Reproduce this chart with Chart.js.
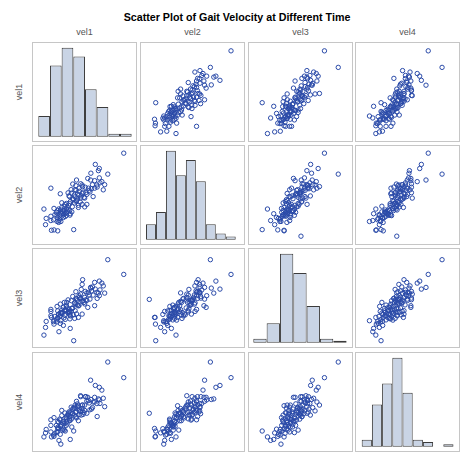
<!DOCTYPE html>
<html>
<head>
<meta charset="utf-8">
<script src="https://cdn.jsdelivr.net/npm/chart.js@4/dist/chart.umd.min.js"></script>
<style>
  html, body { margin: 0; padding: 0; background: #fff; }
  body { width: 462px; height: 456px; position: relative; overflow: hidden;
         font-family: "Liberation Sans", Arial, sans-serif; }
  #title { position: absolute; left: 0; width: 474px; top: 11px; text-align: center;
           font-weight: bold; font-size: 10.7px; color: #000; white-space: nowrap; }
  .collab { position: absolute; top: 27px; width: 105px; text-align: center;
            font-size: 9px; color: #555; }
  .rowlab { position: absolute; width: 100px; height: 12px; line-height: 12px; text-align: center;
            font-size: 9px; color: #555; transform: rotate(-90deg); }
  .panel { position: absolute; width: 105px; height: 100px; }
  .panel canvas { position: absolute; left: 0; top: 0; }
  .frame { position: absolute; left: 0; top: 0; width: 105px; height: 100px; box-sizing: border-box;
           border: 1px solid #c6c6c6; pointer-events: none; }
</style>
</head>
<body>
<div id="title">Scatter Plot of Gait Velocity at Different Time</div>
<div id="grid"></div>
<script>
// Gait velocity (cm/s) for each subject at four visits; null = not measured.
const vel1 = [
  125.3, 108.3, 90.0, 40.3, 72.0, 81.5, 68.3, 58.3, 56.3, 47.7, null,
  95.0, 99.3, 98.3, 99.3, 102.0, 105.0, 90.3, 100.0, 94.3, 103.5,
  96.7, 97.0, 87.0, 92.0, 94.3, 91.0, 87.7, 88.5, 84.3, 89.3,
  81.0, 79.5, 75.0, 92.7, 85.0, 86.0, 77.7, 82.0, 74.3, 71.0,
  81.0, 78.0, 83.0, 83.7, 74.5, 80.0, 73.3, 77.7, 76.0, 79.3,
  86.0, 69.3, 72.7, 76.0, 69.5, 79.0, 73.5, 81.0, 83.7, 75.0,
  66.0, 74.3, 71.0, 71.5, 67.7, 67.0, 77.0, 73.0, 77.0, 68.5,
  57.7, 67.7, 70.5, 64.5, 66.5, 62.7, 70.0, 59.3, 67.7, 66.0,
  62.0, 64.3, 65.0, 62.5, 68.0, 59.3, 64.0, 61.0, 62.7, 64.3,
  58.0, 60.0, 56.0, 61.5, 63.0, 59.0, 57.7, 55.0, 61.0, 51.0,
  53.5, 57.0, 57.7, 54.3, 52.0, 55.0, 56.0, 54.3, 47.7, 50.5,
  47.7, 42.7, 55.0, 51.0, 48.3, 42.0
];
const vel2 = [
  123.7, 101.3, 95.0, 64.0, 42.0, 88.0, 59.0, 50.7, 51.7, 86.3, 35.0,
  111.7, 107.3, 105.0, 97.3, 93.3, 90.0, 102.3, 92.0, 94.3, 84.5,
  89.7, 87.5, 96.7, 90.0, 86.3, 85.7, 86.3, 84.0, 87.3, 82.3,
  89.7, 91.0, 95.0, 77.3, 81.5, 79.7, 86.3, 82.0, 89.0, 90.7,
  80.7, 83.0, 76.5, 75.7, 84.0, 78.0, 84.7, 79.0, 80.0, 75.7,
  69.0, 84.7, 79.0, 74.7, 81.0, 71.5, 77.0, 69.0, 66.3, 73.0,
  81.3, 72.3, 75.0, 74.0, 77.3, 78.0, 68.0, 70.5, 65.7, 72.0,
  80.3, 69.7, 66.5, 70.0, 68.0, 69.0, 61.0, 70.7, 62.3, 64.0,
  67.0, 64.0, 62.0, 63.0, 57.5, 65.7, 60.5, 62.3, 59.0, 57.3,
  63.0, 61.0, 64.0, 58.0, 56.0, 59.5, 60.0, 62.5, 55.0, 64.7,
  60.5, 57.0, 54.0, 57.3, 58.0, 55.0, 49.7, 50.7, 56.3, 52.5,
  51.7, 54.0, 40.7, 41.7, 41.3, 47.3
];
const vel3 = [
  108.0, 122.7, 95.0, 47.3, 41.7, 102.7, 54.0, 61.7, 50.7, 73.0, 83.0,
  93.3, 101.3, 89.3, 86.7, 99.3, 89.3, 94.3, 92.5, 76.7, 96.5,
  90.0, 84.0, 75.0, 95.5, 100.0, 91.5, 90.0, 87.5, 91.0, 83.3,
  98.0, 84.3, 83.3, 87.3, 82.7, 82.0, 86.7, 81.7, 90.7, 86.0,
  68.3, 85.0, 80.0, 85.0, 78.3, 93.0, 79.5, 77.0, 77.5, 88.3,
  89.5, 71.0, 79.3, 82.3, 81.7, 83.5, 71.7, 81.0, 78.5, 68.5,
  82.5, 84.0, 74.5, 67.5, 70.5, 73.5, 76.5, 64.0, 65.0, 66.5,
  78.3, 67.5, 74.0, 80.0, 70.7, 72.7, 74.0, 70.0, 69.3, 69.5,
  80.0, 76.0, 74.5, 67.3, 63.5, 72.5, 77.3, 75.0, 71.7, 72.0,
  70.0, 69.3, 68.3, 64.5, 63.0, 69.0, 66.5, 64.0, 57.0, 62.3,
  62.5, 66.0, 59.0, 76.0, 66.0, 71.5, 68.0, 60.5, 66.7, 60.7,
  71.0, 61.0, 65.0, 58.3, 65.0, 55.0
];
const vel4 = [
  106.0, 122.7, 103.3, 42.7, 49.0, 76.7, 40.0, 35.0, 39.0, 61.0, 68.0,
  97.7, 95.7, 83.3, 82.3, 92.7, 75.0, 82.7, 78.5, 85.0, 84.0,
  78.3, 64.5, 85.0, 74.0, 80.0, 72.5, 81.5, 79.0, 85.7, 71.7,
  70.5, 85.7, 80.7, 80.0, 85.7, 81.0, 70.7, 66.7, 69.3, 67.5,
  76.7, 72.5, 68.5, 76.7, 69.0, 66.0, 74.5, 66.5, 78.0, 86.7,
  68.0, 74.5, 73.3, 75.0, 61.7, 70.0, 76.7, 73.0, 71.0, 63.0,
  66.0, 64.3, 72.5, 73.5, 62.0, 69.5, 60.0, 66.0, 76.0, 68.5,
  60.7, 60.0, 67.7, 65.0, 68.3, 62.7, 53.3, 71.0, 64.0, 67.0,
  50.0, 63.3, 56.5, 68.3, 60.5, 65.5, 55.0, 59.3, 57.3, 58.5,
  54.0, 50.0, 58.3, 57.5, 49.0, 56.0, 54.0, 59.3, 51.0, 63.3,
  55.0, 61.7, 45.5, 47.3, 46.5, 53.0, 51.5, 48.5, 55.0, 44.7,
  48.0, 50.7, 51.7, 43.3, 42.7, 47.0
];

const varNames = ['vel1', 'vel2', 'vel3', 'vel4'];

// Histogram bins per variable: first bin edge, bin width, subject counts.
const binStart = [37.3, 34.5, 35.3, 29.0];
const binWidth = [11.67, 10.16, 13.33, 11.57];
const hist1 = [7, 24, 30, 27, 16, 10, 1, 1];
const hist2 = [5, 9, 29, 21, 26, 19, 5, 2, 1];
const hist3 = [2, 10, 46, 36, 19, 2, 1];
const hist4 = [3, 18, 27, 38, 23, 3, 2, 0, 1];

const series = [vel1, vel2, vel3, vel4];
const hists = [hist1, hist2, hist3, hist4];

// Axis windows for each variable when used horizontally / vertically.
const xWin = [[31, 136], [28.4, 135.4], [30, 135], [21.4, 140.5]];
const yWin = [[34.9, 131.1], [29, 129], [37.6, 131.2], [30, 130]];

const colLeft = [32, 140, 248, 355];
const rowTop = [42, 145, 248, 352];
const PW = 105, PH = 100;

const grid = document.getElementById('grid');

varNames.forEach((name, j) => {
  const c = document.createElement('div');
  c.className = 'collab';
  c.style.left = colLeft[j] + 'px';
  c.textContent = name;
  grid.appendChild(c);
  const r = document.createElement('div');
  r.className = 'rowlab';
  r.style.left = (19 - 50) + 'px';
  r.style.top = (rowTop[j] + PH / 2 - 6) + 'px';
  r.textContent = name;
  grid.appendChild(r);
});

const base = {
  responsive: false,
  animation: false,
  events: [],
  layout: { padding: 0 },
  plugins: { legend: { display: false }, tooltip: { enabled: false }, title: { display: false } }
};

function makePanel(i, j) {
  const p = document.createElement('div');
  p.className = 'panel';
  p.style.left = colLeft[j] + 'px';
  p.style.top = rowTop[i] + 'px';
  const cv = document.createElement('canvas');
  cv.width = PW; cv.height = PH;
  cv.style.width = PW + 'px'; cv.style.height = PH + 'px';
  p.appendChild(cv);
  const fr = document.createElement('div');
  fr.className = 'frame';
  p.appendChild(fr);
  grid.appendChild(p);

  if (i === j) {
    const counts = hists[i];
    const maxC = Math.max(...counts);
    const bars = counts.map((c, b) => ({ x: binStart[i] + (b + 0.5) * binWidth[i], y: c }));
    // one bin spans binWidth data units on the panel's horizontal window
    const thick = binWidth[i] / (xWin[i][1] - xWin[i][0]) * PW;
    new Chart(cv, {
      type: 'bar',
      data: { datasets: [{
        data: bars,
        backgroundColor: '#c9d4e5',
        borderColor: '#3b3b3b',
        borderWidth: 1,
        borderSkipped: false,
        inflateAmount: 0,
        barThickness: thick
      }] },
      options: Object.assign({}, base, {
        scales: {
          x: { type: 'linear', display: false, offset: false,
               min: xWin[i][0], max: xWin[i][1] },
          y: { type: 'linear', display: false, min: -0.06 * maxC, max: 1.064 * maxC }
        }
      })
    });
  } else {
    const xs = series[j], ys = series[i];
    const pts = [];
    for (let k = 0; k < xs.length; k++) {
      if (xs[k] != null && ys[k] != null) pts.push({ x: xs[k], y: ys[k] });
    }
    new Chart(cv, {
      type: 'scatter',
      data: { datasets: [{
        data: pts,
        pointStyle: 'circle',
        pointRadius: 2.2,
        pointHoverRadius: 2.2,
        pointBorderWidth: 1,
        pointBackgroundColor: 'rgba(0,0,0,0)',
        pointBorderColor: '#2a4aa8'
      }] },
      options: Object.assign({}, base, {
        scales: {
          x: { type: 'linear', display: false, min: xWin[j][0], max: xWin[j][1] },
          y: { type: 'linear', display: false, min: yWin[i][0], max: yWin[i][1] }
        }
      })
    });
  }
}

for (let i = 0; i < 4; i++) {
  for (let j = 0; j < 4; j++) makePanel(i, j);
}
</script>
</body>
</html>
